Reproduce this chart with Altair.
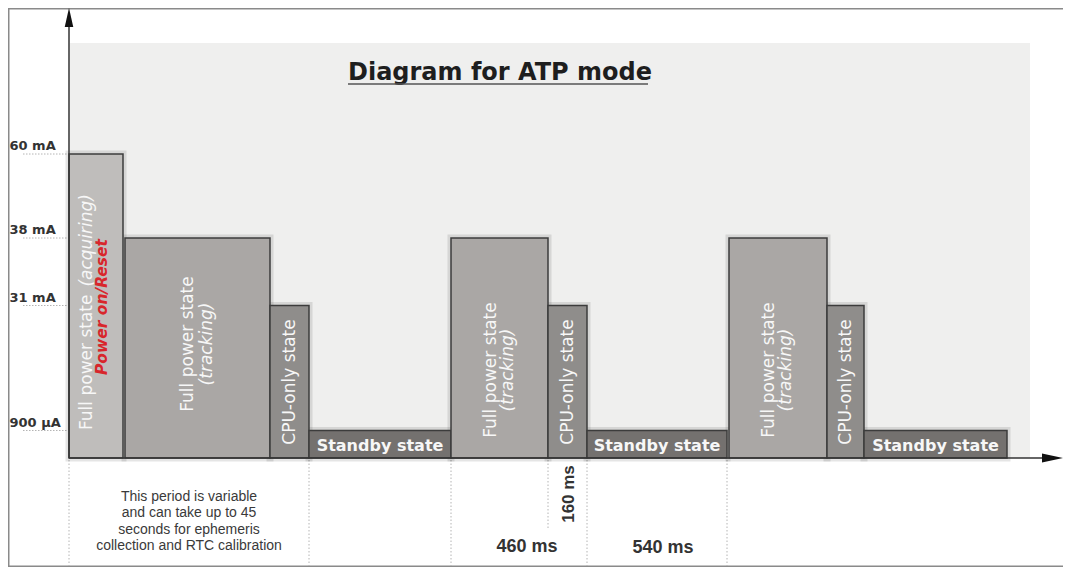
import altair as alt
import pandas as pd

# ---------------- data ----------------
state_kind = ["acquiring", "tracking", "cpu", "standby",
              "tracking", "cpu", "standby",
              "tracking", "cpu", "standby"]
t_start = [0, 56, 201, 240, 382, 479, 518, 660, 758, 795]     # schematic time units
t_end = [54, 201, 240, 382, 479, 518, 658, 758, 795, 938]
current_mA = [60, 38, 31, 0.9, 38, 31, 0.9, 38, 31, 0.9]

level_mA = [60, 38, 31, 0.9]
level_labels = ["60 mA", "38 mA", "31 mA", "900 µA"]

boundary_t = [0, 240, 382, 518, 658]   # dotted separators below the time axis
cpu_boundary_t = [479]

kind_domain = ["acquiring", "tracking", "cpu", "standby"]
kind_colors = ["#bfbdbb", "#aaa7a5", "#8f8d8b", "#74716f"]

title_text = "Diagram for ATP mode"
note_lines = ["This period is variable", "and can take up to 45",
              "seconds for ephemeris", "collection and RTC calibration"]
dur_460 = "460 ms"
dur_160 = "160 ms"
dur_540 = "540 ms"

# ---------------- tables ----------------
bars = pd.DataFrame({"kind": state_kind, "t0": t_start, "t1": t_end,
                     "mA": current_mA, "base": 0.0})
levels = pd.DataFrame({"mA": level_mA, "label": level_labels})
one = pd.DataFrame({"a": [0]})

W, H = 1055, 559
xs = alt.Scale(domain=[-61, W - 61], range=[0, W], nice=False, zero=False)
ys = alt.Scale(domain=[0, 0.9, 31, 38, 60, 100],
               range=[450, 422.5, 297.5, 230, 146, 0], nice=False, zero=False)


def X(f):
    return alt.X(f, scale=xs, axis=None)


def Y(f):
    return alt.Y(f, scale=ys, axis=None)


def centers(idx):
    return [(t_start[i] + t_end[i]) / 2 for i in idx]


def vtext(idx, text, dx, dy, **kw):
    df = pd.DataFrame({"t": centers(idx), "base": 0.0, "label": text})
    props = dict(angle=270, align="center", baseline="middle", dx=dx, dy=dy)
    props.update(kw)
    return alt.Chart(df).mark_text(**props).encode(
        x=X("t:Q"), y=Y("base:Q"), text="label:N")


WHITE = "#f7f7f7"
layers = []

# frame (left / top / bottom)
layers.append(alt.Chart(one).mark_rule(color="#8a8a8a", strokeWidth=1.5).encode(
    x=alt.value(0.75), y=alt.value(0), y2=alt.value(H)))
layers.append(alt.Chart(one).mark_rule(color="#8a8a8a", strokeWidth=1.5).encode(
    x=alt.value(0), x2=alt.value(W), y=alt.value(0.75)))
layers.append(alt.Chart(one).mark_rule(color="#8a8a8a", strokeWidth=1.5).encode(
    x=alt.value(0), x2=alt.value(W), y=alt.value(H - 0.75)))

# light grey diagram panel
layers.append(alt.Chart(one).mark_rect(color="#efefee").encode(
    x=alt.value(62), x2=alt.value(1022), y=alt.value(35), y2=alt.value(450)))

# title with underline
layers.append(alt.Chart(one).mark_text(
    text=title_text, align="left", baseline="alphabetic", font="DejaVu Sans",
    fontWeight="bold", fontSize=24, color="#1e1e1e").encode(
    x=alt.value(340), y=alt.value(72)))
layers.append(alt.Chart(one).mark_rule(color="#555555", strokeWidth=1.5).encode(
    x=alt.value(340), x2=alt.value(640), y=alt.value(76)))

# level labels and dotted guides at the left
layers.append(alt.Chart(levels).mark_rule(color="#b4b4b4", strokeDash=[1.5, 1.5]).encode(
    x=alt.value(15), x2=alt.value(59), y=Y("mA:Q")))
layers.append(alt.Chart(levels).mark_text(
    align="left", baseline="middle", dy=-8, font="DejaVu Sans", fontWeight="bold",
    fontSize=13, color="#333333").encode(x=alt.value(1.5), y=Y("mA:Q"), text="label:N"))

# dotted separators below the time axis
sep = pd.DataFrame({"t": boundary_t})
layers.append(alt.Chart(sep).mark_rule(color="#b4b4b4", strokeDash=[1.5, 2]).encode(
    x=X("t:Q"), y=alt.value(452), y2=alt.value(H - 1)))
sep2 = pd.DataFrame({"t": cpu_boundary_t})
layers.append(alt.Chart(sep2).mark_rule(color="#b4b4b4", strokeDash=[1.5, 2]).encode(
    x=X("t:Q"), y=alt.value(452), y2=alt.value(522)))

# soft shadow round the bars
layers.append(alt.Chart(bars).mark_rect(fillOpacity=0, stroke="#000000",
                                        strokeOpacity=0.10, strokeWidth=7).encode(
    x=X("t0:Q"), x2="t1:Q", y=Y("mA:Q"), y2="base:Q"))

# the bars
layers.append(alt.Chart(bars).mark_rect(stroke="#3c3c3c", strokeWidth=1.5).encode(
    x=X("t0:Q"), x2="t1:Q", y=Y("mA:Q"), y2="base:Q",
    color=alt.Color("kind:N", scale=alt.Scale(domain=kind_domain, range=kind_colors),
                    legend=None)))

# axes with arrow heads
layers.append(alt.Chart(one).mark_rule(color="#333333", strokeWidth=1.5).encode(
    x=alt.value(61), y=alt.value(450), y2=alt.value(17)))
layers.append(alt.Chart(one).mark_rule(color="#333333", strokeWidth=1.5).encode(
    x=alt.value(61), x2=alt.value(W - 18), y=alt.value(450)))
layers.append(alt.Chart(one).mark_point(
    shape="M0,-1L0.45,1L-0.45,1Z", filled=True, color="#111111", opacity=1,
    size=361).encode(x=alt.value(61), y=alt.value(9.5)))
layers.append(alt.Chart(one).mark_point(
    shape="M1,0L-1,0.42L-1,-0.42Z", filled=True, color="#111111", opacity=1,
    size=441).encode(x=alt.value(W - 10.5), y=alt.value(450)))

# texts inside the bars
F = "DejaVu Sans"
FS = 17
# acquiring bar
layers.append(vtext([0], "Full power state", 28, -9, font=F, fontSize=FS,
                    color=WHITE, align="left"))
layers.append(vtext([0], "(acquiring)", 264, -9, font=F, fontSize=FS,
                    fontStyle="italic", color=WHITE, align="right"))
layers.append(vtext([0], "Power on/Reset", 151, 6, font=F, fontSize=15.5,
                    fontWeight="bold", fontStyle="italic", color="#d8262b"))
# tracking bars
layers.append(vtext([1], "Full power state", 114, -10, font=F, fontSize=FS, color=WHITE))
layers.append(vtext([1], "(tracking)", 114, 9, font=F, fontSize=FS,
                    fontStyle="italic", color=WHITE))
layers.append(vtext([4, 7], "Full power state", 88, -9, font=F, fontSize=FS, color=WHITE))
layers.append(vtext([4, 7], "(tracking)", 88, 8, font=F, fontSize=FS,
                    fontStyle="italic", color=WHITE))
# cpu bars
layers.append(vtext([2, 5, 8], "CPU-only state", 76, 0, font=F, fontSize=FS, color=WHITE))
# standby bars
stb = pd.DataFrame({"t": centers([3, 6, 9]), "base": 0.0, "label": "Standby state"})
layers.append(alt.Chart(stb).mark_text(
    align="center", baseline="middle", dy=-12, font=F, fontWeight="bold",
    fontSize=16, color=WHITE).encode(x=X("t:Q"), y=Y("base:Q"), text="label:N"))

# notes below the time axis
note = pd.DataFrame({"t": [(t_start[0] + t_start[3]) / 2], "label": ["\n".join(note_lines)]})
layers.append(alt.Chart(note).mark_text(
    align="center", baseline="top", lineBreak="\n", lineHeight=16.3,
    font="Liberation Sans", fontSize=14, color="#3a3a3a").encode(
    x=X("t:Q"), y=alt.value(482), text="label:N"))

d460 = pd.DataFrame({"t": [(t_start[4] + t_end[5]) / 2], "label": [dur_460]})
layers.append(alt.Chart(d460).mark_text(
    align="center", baseline="middle", dx=8, font="Liberation Sans", fontWeight="bold",
    fontSize=18, color="#333333").encode(x=X("t:Q"), y=alt.value(539), text="label:N"))
d540 = pd.DataFrame({"t": [(t_start[6] + t_end[6]) / 2], "label": [dur_540]})
layers.append(alt.Chart(d540).mark_text(
    align="center", baseline="middle", dx=6, font="Liberation Sans", fontWeight="bold",
    fontSize=18, color="#333333").encode(x=X("t:Q"), y=alt.value(540), text="label:N"))
d160 = pd.DataFrame({"t": [(t_start[5] + t_end[5]) / 2], "label": [dur_160]})
layers.append(alt.Chart(d160).mark_text(
    angle=270, align="center", baseline="middle", dy=1.5, font="Liberation Sans",
    fontWeight="bold", fontSize=17, color="#333333").encode(
    x=X("t:Q"), y=alt.value(486), text="label:N"))

chart = alt.layer(*layers).properties(
    width=W, height=H, autosize="none", padding=0, background="white"
).configure_view(stroke=None)

chart.save("out.html", embed_options={"renderer": "svg", "actions": False})
